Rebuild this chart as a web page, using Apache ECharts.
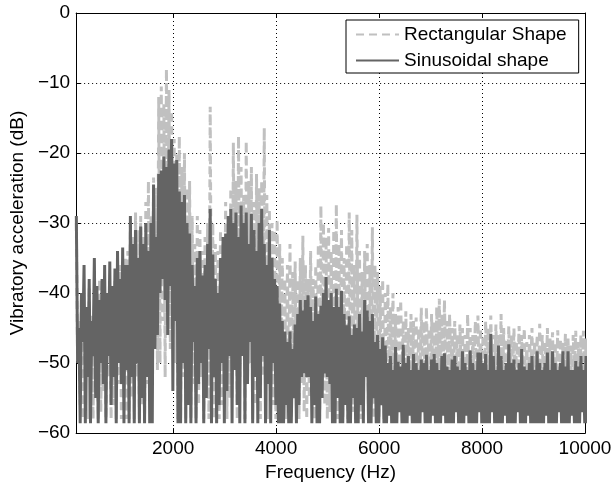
<!DOCTYPE html>
<html>
<head>
<meta charset="utf-8">
<script src="https://cdn.jsdelivr.net/npm/echarts@6/dist/echarts.min.js"></script>
<style>html,body{margin:0;padding:0;background:#fff;}#c{width:615px;height:487px;}</style>
</head>
<body>
<div id="c"></div>
<script>
// Sampling grid (Hz): peak sample at f, trough sample at f + half step
const freqStart = 120;
const freqStep = 50;

// Sinusoidal shape: local peaks and troughs (dB)
const sinusoidalPeaks = [
  -29,-45,-40,-36,-42,-38,-44,-35,-39,-41,-38,-36,-40,-35.5,-39,-36.5,-34,-38,-33.5,-36,
  -36,-29,-33,-31,-35,-30.5,-33,-30,-34,-30,-24.5,-32,-23,-22.5,-20.5,-22,-19.5,-18,-21.5,-21,
  -25.5,-27,-26,-30,-31.5,-36,-39,-35,-34,-37.5,-36,-33,-28,-34.5,-38,-40,-35,-32,-31.5,-29,
  -28,-30,-28.5,-32,-27.5,-30,-28.5,-33,-28.7,-31,-34,-30,-28,-33,-36,-31,-35,-38,-39,-41.5,
  -44,-45.5,-47,-45.5,-48,-44.5,-43,-41,-42.5,-41,-40.3,-42,-44,-40.5,-43,-41.8,-40,-37.7,-41,-40,
  -42,-39.4,-42,-39.7,-43,-44.6,-43.3,-46,-44.5,-45,-43,-45.5,-41,-42.5,-44,-43,-47,-46,-48,-46.3,
  -47.5,-50,-49,-51,-47.7,-49.8,-50.5,-47.4,-50,-49,-51,-48.7,-50,-51,-49.5,-50,-48.8,-51,-49.5,-48.7,
  -50,-51,-49,-48.6,-50.5,-51,-49.5,-49,-50.5,-51,-48.3,-50,-51,-48.2,-50,-51,-48.5,-48.5,-50,-48.7,
  -51,-45.8,-49,-51,-47.5,-49,-51,-50,-47.3,-50,-49.5,-51,-50,-48,-50.5,-51,-50,-49,-51,-48.3,
  -50,-51,-50,-48.5,-51,-48.3,-50,-51,-50,-48.3,-50.5,-48.3,-51,-51,-49.7,-50.5,-49,-51,-49,-50
];
const sinusoidalTroughs = [
  -50,-58.6,-47,-58.6,-52,-58.6,-49,-55,-58.6,-50,-53,-58.6,-49,-56,-52,-58.6,-50,-53,-58.6,-51,
  -58.6,-52,-58.6,-50,-58.6,-55,-58.6,-52,-58.6,-58.6,-48,-46,-40,-38,-41,-46,-39,-54,-44,-58.6,
  -58.6,-50,-58.6,-56,-58.6,-47,-58.6,-53,-50,-58.6,-55,-48,-58.6,-52,-58.6,-56,-50,-58.6,-54,-49,
  -58.6,-51,-56,-58.6,-49,-58.6,-53,-47,-58.6,-52,-58.6,-55,-49,-58.6,-53,-58.6,-50,-56,-58.6,-58.6,
  -58.6,-56,-58.6,-58.6,-55,-58.6,-56,-52,-51.5,-52,-52,-58.6,-56,-58.6,-58.6,-55,-51.5,-52,-53,-58.6,
  -58.6,-55,-58.6,-58.6,-56,-58.6,-58.6,-55,-58.6,-58.6,-56,-58.6,-52,-58.6,-58.6,-55,-58.6,-58.6,-56,-58.6,
  -58.6,-57.5,-58.6,-58.6,-58.6,-57,-58.6,-58.6,-58.6,-57.5,-58.6,-58.6,-58.6,-58.6,-57,-58.6,-58.6,-58.6,-57.5,-58.6,
  -58.6,-58.6,-57.5,-58.6,-58.6,-58.6,-58.6,-57,-58.6,-58.6,-58.6,-57.5,-58.6,-58.6,-58.6,-58.6,-57,-58.6,-58.6,-58.6,
  -58.6,-57,-58.6,-58.6,-58.6,-58.6,-57.5,-58.6,-58.6,-58.6,-58.6,-57,-58.6,-58.6,-58.6,-57.5,-58.6,-58.6,-58.6,-58.6,
  -58.6,-58.6,-57.5,-58.6,-58.6,-58.6,-58.6,-57,-58.6,-58.6,-58.6,-58.6,-57.5,-58.6,-58.6,-58.6,-57,-58.6,-58.6,-58.6
];

// Rectangular shape: local peaks and troughs (dB)
const rectangularPeaks = [
  -30,-44,-40,-42,-45,-39,-43,-41,-44,-38,-42,-40,-43,-39,-41,-38,-40,-36,-39,-35,
  -34,-30,-32,-28.5,-31,-29,-32,-27,-24,-29,-23.5,-25,-12,-10.5,-13,-8,-11,-14,-18,-20,
  -17.6,-22,-20,-25,-24,-29,-33,-29,-31,-34,-32,-30,-13.4,-30,-33,-34,-31,-33,-27,-29,
  -25,-18.5,-24,-17.6,-22,-26,-18.3,-24,-22,-27,-23,-25,-24,-16.4,-26,-28,-30,-31,-29.5,-33,
  -35,-38,-36,-33,-37,-35.5,-38,-35,-31.8,-36,-38,-34,-38,-36,-33,-27.5,-30,-32,-30.7,-34,
  -31,-27.3,-33,-31,-35,-33,-28.5,-31,-36,-28.8,-34,-37,-34,-33,-36,-30.6,-36,-37,-39,-38,
  -40,-38.7,-42,-40,-43,-42,-41,-44,-42.6,-45,-43,-44,-43.5,-45,-42.1,-44,-42,-45,-43,-44,
  -42,-40.8,-43,-41,-44,-43,-45,-44,-46,-44.5,-45,-46,-43,-45,-46,-44,-43.2,-45,-46,-44,
  -45,-43.2,-46,-44.5,-46,-43,-45,-46.5,-44.7,-46,-45,-47,-44.7,-46,-45,-47,-46,-45,-47,-46,
  -44.4,-46,-47,-45,-46.5,-45.6,-47,-45.3,-46.5,-47,-45.8,-46.5,-47.5,-46,-45.4,-47,-46,-45.4,-46.5,-47
];
const rectangularTroughs = [
  -50,-56,-58,-52,-58,-55,-58,-53,-58,-57,-54,-58,-52,-58,-56,-58,-53,-58,-55,-58,
  -58,-55,-58,-52,-58,-56,-58,-53,-55,-50,-44,-51,-50,-44,-52,-40,-48,-36,-50,-58,
  -58,-52,-58,-55,-58,-53,-58,-56,-52,-58,-55,-58,-50,-58,-54,-58,-56,-52,-58,-55,
  -55,-50,-58,-52,-47,-58,-53,-50,-58,-56,-50,-58,-52,-55,-58,-50,-56,-58,-52,-48,
  -50,-58,-54,-58,-52,-56,-58,-53,-57,-58,-55,-50,-58,-54,-58,-52,-56,-58,-57,-50,
  -56,-58,-52,-58,-55,-58,-53,-57,-58,-52,-58,-55,-50,-58,-56,-58,-54,-58,-55,-58,
  -52,-54,-51,-56,-52,-55,-51,-53,-56,-52,-54,-51,-55,-53,-52,-56,-51,-54,-52,-55,
  -53,-51,-55,-52,-56,-51,-54,-52,-55,-51,-53,-56,-52,-54,-51,-55,-53,-52,-56,-51,
  -54,-52,-51,-55,-53,-56,-52,-51,-54,-52,-55,-51,-53,-56,-52,-54,-51,-55,-52,-53,
  -51,-55,-52,-54,-51,-56,-53,-52,-55,-51,-54,-52,-56,-51,-53,-55,-52,-54,-51,-55
];

const yTicks = [0, -10, -20, -30, -40, -50, -60];
const xTickLabels = [2000, 4000, 6000, 8000, 10000];
const seriesNames = ['Rectangular Shape', 'Sinusoidal shape'];

function build(peaks, troughs) {
  const out = [];
  for (let i = 0; i < peaks.length; i++) {
    const f = freqStart + i * freqStep;
    out.push([f, peaks[i]]);
    out.push([f + freqStep / 2, troughs[i]]);
  }
  return out;
}

const FONT = 'Liberation Sans, Arial, Helvetica, sans-serif';
const chart = echarts.init(document.getElementById('c'), null, {renderer: 'canvas'});
const dotted = {show: true, lineStyle: {color: '#000', width: 1, type: [1, 3]}};
const xCommon = {
  type: 'value', min: 116, max: 10000, splitNumber: 5,
  axisLine: {show: true, onZero: false, lineStyle: {color: '#000', width: 1}},
  axisTick: {show: true, inside: true, length: 5, lineStyle: {color: '#000'}}
};
const yCommon = {
  type: 'value', min: -60, max: 0, interval: 10,
  axisLine: {show: true, onZero: false, lineStyle: {color: '#000', width: 1}},
  axisTick: {show: true, inside: true, length: 5, lineStyle: {color: '#000'}}
};

chart.setOption({
  animation: false,
  backgroundColor: '#fff',
  textStyle: {fontFamily: FONT},
  grid: {left: 76, right: 30, top: 13, bottom: 52, containLabel: false},
  legend: {
    data: seriesNames,
    orient: 'vertical',
    left: 346, top: 20,
    padding: [5, 12, 3, 9],
    itemWidth: 43, itemHeight: 14, itemGap: 7,
    borderColor: '#000', borderWidth: 1, backgroundColor: '#fff',
    itemStyle: {opacity: 0},
    textStyle: {fontSize: 19, color: '#000', fontFamily: FONT}
  },
  xAxis: [
    Object.assign({}, xCommon, {
      position: 'bottom',
      splitLine: dotted,
      axisLabel: {
        show: true, showMinLabel: false, showMaxLabel: true, margin: 6,
        fontSize: 19, color: '#000', fontFamily: FONT,
        formatter: function (v) { return xTickLabels.indexOf(v) >= 0 ? String(v) : ''; }
      },
      name: 'Frequency (Hz)', nameLocation: 'middle', nameGap: 24,
      nameTextStyle: {fontSize: 19, color: '#000', fontFamily: FONT}
    }),
    Object.assign({}, xCommon, {
      position: 'top', splitLine: {show: false}, axisLabel: {show: false}
    })
  ],
  yAxis: [
    Object.assign({}, yCommon, {
      position: 'left',
      splitLine: dotted,
      axisLabel: {
        show: true, margin: 6, fontSize: 19, color: '#000', fontFamily: FONT,
        formatter: function (v) { return yTicks.indexOf(v) >= 0 ? String(v).replace('-', '\u2212') : ''; }
      },
      name: 'Vibratory acceleration (dB)', nameLocation: 'middle', nameGap: 45, nameRotate: 90,
      nameTextStyle: {fontSize: 19, color: '#000', fontFamily: FONT}
    }),
    Object.assign({}, yCommon, {
      position: 'right', splitLine: {show: false}, axisLabel: {show: false}
    })
  ],
  series: [
    {
      name: seriesNames[0], type: 'line', xAxisIndex: 0, yAxisIndex: 0,
      data: build(rectangularPeaks, rectangularTroughs),
      symbol: 'none', showSymbol: false, sampling: null, clip: true, z: 2,
      color: '#c0c0c0',
      lineStyle: {color: '#c0c0c0', width: 3, type: [8, 5]}
    },
    {
      name: seriesNames[1], type: 'line', xAxisIndex: 0, yAxisIndex: 0,
      data: build(sinusoidalPeaks, sinusoidalTroughs),
      symbol: 'none', showSymbol: false, sampling: null, clip: true, z: 3,
      color: '#646464',
      lineStyle: {color: '#646464', width: 3, type: 'solid'}
    }
  ]
});
</script>
</body>
</html>
